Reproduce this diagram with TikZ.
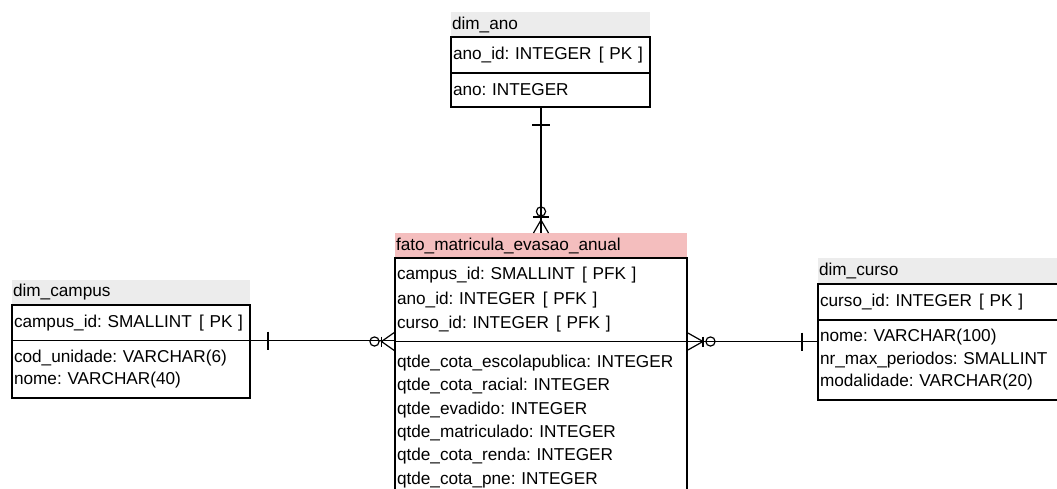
\documentclass[tikz,border=0pt]{standalone}
\usepackage{fontspec}
\setmainfont{Liberation Sans}
\usepackage{tikz}
\usetikzlibrary{positioning}
\usetikzlibrary{calc}

\definecolor{titlegray}{RGB}{236,236,236}
\definecolor{factpink}{RGB}{244,190,190}
\newcommand{\keygap}{\ \hspace{1.5pt}}

\begin{document}
\begin{tikzpicture}[x=1pt,y=-1pt,
    font=\fontsize{17.2}{22.5}\selectfont\frenchspacing,
    tabtitle/.style = {rectangle, anchor=north west, fill=titlegray,
                       inner xsep=1pt, inner ysep=0pt, outer sep=0pt,
                       align=left},
    facttitle/.style = {tabtitle, fill=factpink},
    tabbox/.style = {rectangle, draw=black, line width=1.2pt,
                     inner xsep=2pt, inner ysep=0pt, outer sep=0pt,
                     align=left},
    rel/.style = {draw=black, line width=1.2pt}]
  \path[use as bounding box, fill=white] (0,0) rectangle (1057,489);
  \clip (0,0) rectangle (1057,489);

  % dim_ano
  \node (anoT) [tabtitle, text width=197pt, minimum height=25pt] at (451,12) {dim\_ano};
  \node (anoK) [tabbox, text width=195pt, minimum height=36pt,
                below=0pt of anoT.south west, anchor=north west] {\mbox{ano\_id: INTEGER\keygap[ PK ]}};
  \node (anoA) [tabbox, text width=195pt, minimum height=34pt,
                below=0pt of anoK.south west, anchor=north west] {ano: INTEGER};

  % fato_matricula_evasao_anual
  \node (factT) [facttitle, text width=290pt, minimum height=25pt] at (395,233) {fato\_matricula\_evasao\_anual};
  \node (factK) [tabbox, text width=288pt, minimum height=83.5pt,
                 font=\fontsize{17.2}{24.5}\selectfont\frenchspacing,
                 below=0pt of factT.south west, anchor=north west]
        {campus\_id: SMALLINT\keygap[ PFK ]\\ano\_id: INTEGER\keygap[ PFK ]\\curso\_id: INTEGER\keygap[ PFK ]};
  \node (factA) [tabbox, text width=288pt, minimum height=160pt,
                 font=\fontsize{17.2}{23.3}\selectfont\frenchspacing,
                 below=0pt of factK.south west, anchor=north west]
        {qtde\_cota\_escolapublica: INTEGER\\qtde\_cota\_racial: INTEGER\\qtde\_evadido: INTEGER\\%
         qtde\_matriculado: INTEGER\\qtde\_cota\_renda: INTEGER\\qtde\_cota\_pne: INTEGER};

  % dim_campus
  \node (campusT) [tabtitle, text width=236pt, minimum height=25pt] at (12,280) {dim\_campus};
  \node (campusK) [tabbox, text width=234pt, minimum height=35.5pt,
                   below=0pt of campusT.south west, anchor=north west] {\mbox{campus\_id: SMALLINT\keygap[ PK ]}};
  \node (campusA) [tabbox, text width=234pt, minimum height=57.5pt,
                   below=0pt of campusK.south west, anchor=north west]
        {cod\_unidade: VARCHAR(6)\\nome: VARCHAR(40)};

  % dim_curso
  \node (cursoT) [tabtitle, text width=239pt, minimum height=26pt] at (818,258) {dim\_curso};
  \node (cursoK) [tabbox, text width=237pt, minimum height=36pt,
                  below=0pt of cursoT.south west, anchor=north west] {curso\_id: INTEGER\keygap[ PK ]};
  \node (cursoA) [tabbox, text width=237pt, minimum height=80pt,
                  below=0pt of cursoK.south west, anchor=north west]
        {nome: VARCHAR(100)\\nr\_max\_periodos: SMALLINT\\modalidade: VARCHAR(20)};

  % relationships
  \path[rel]
    (anoA.south -| factT.north) edge (factT.north)
    (campusK.south east) edge (campusK.south east -| factK.west)
    (factK.south east) edge (factK.south east -| cursoK.west);

  % one ends
  \draw[rel] ($(anoA.south -| factT.north)+(-9,18)$) -- +(18,0);
  \draw[rel] ($(campusK.south east)+(18,-9)$) -- +(0,18);
  \draw[rel] ($(factK.south east -| cursoK.west)+(-16,-9)$) -- +(0,18);

  % many ends (ano)
  \draw[rel] ($(factT.north)+(-7.5,0)$) -- ($(factT.north)+(0,-13)$) -- ($(factT.north)+(7.5,0)$);
  \draw[rel] ($(factT.north)+(-8,-16)$) -- +(16,0);
  \draw[rel] ($(factT.north)+(0,-21.5)$) circle (4.6);
  % many ends (campus)
  \draw[rel] ($(factK.south west)+(0,-9.5)$) -- ($(factK.south west)+(-13.5,0)$) -- ($(factK.south west)+(0,9.5)$);
  \draw[rel] ($(factK.south west)+(-13.5,-5)$) -- +(0,10);
  \draw[rel] ($(factK.south west)+(-20.5,0)$) circle (4.6);
  % many ends (curso)
  \draw[rel] ($(factK.south east)+(0,-9)$) -- ($(factK.south east)+(16,0)$) -- ($(factK.south east)+(0,9)$);
  \draw[rel] ($(factK.south east)+(16,-5)$) -- +(0,10);
  \draw[rel] ($(factK.south east)+(23.5,0)$) circle (4.6);
\end{tikzpicture}
\end{document}
